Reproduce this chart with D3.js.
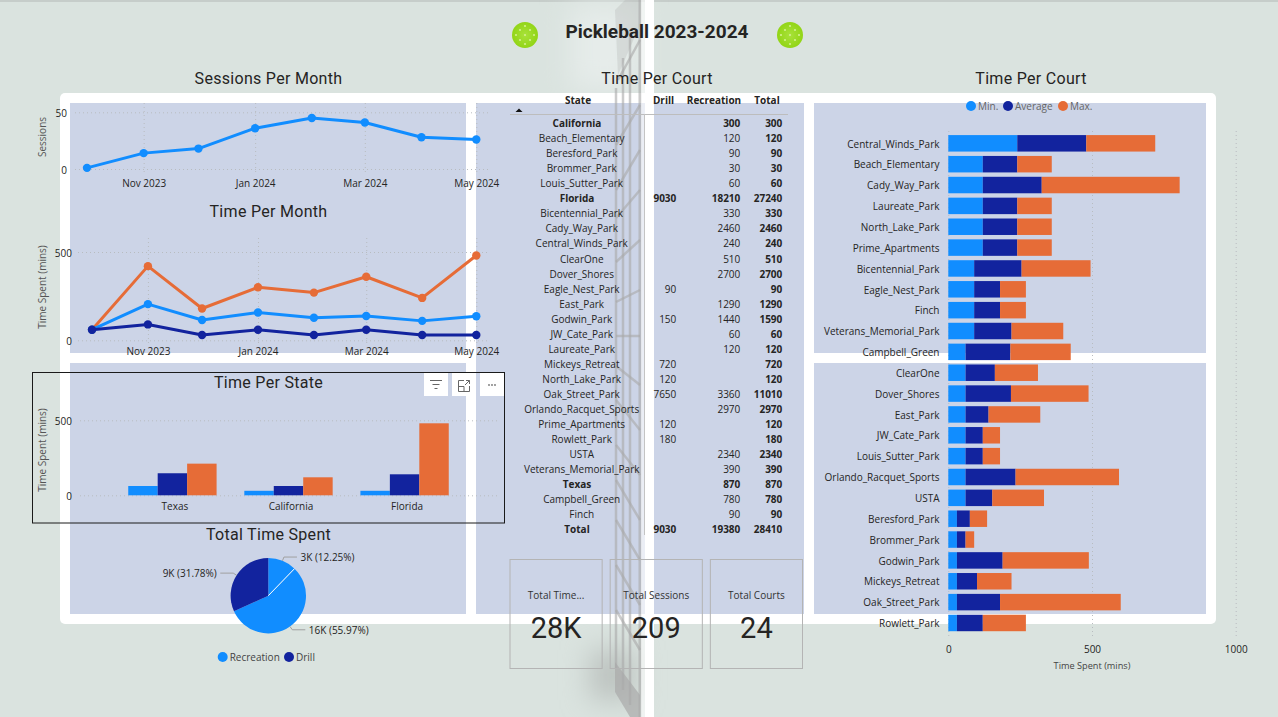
<!DOCTYPE html>
<html>
<head>
<meta charset="utf-8">
<title>Pickleball 2023-2024</title>
<script src="https://cdn.jsdelivr.net/npm/d3@7"></script>
<style>
  html, body { margin: 0; padding: 0; background: #dae3df; overflow: hidden; }
  svg { display: block; }
  text { font-family: "Open Sans", sans-serif; font-size: 10px; fill: #252423; }
  .title { font-family: Roboto, sans-serif; font-size: 16px; text-anchor: middle; dominant-baseline: middle; letter-spacing: 0.3px; }
  .tick text { font-size: 10px; fill: #252423; }
  .tick line { stroke: #b8bcc0; stroke-dasharray: 1 3; }
  .domain { display: none; }
  .axisTitle { font-size: 10px; fill: #555; text-anchor: middle; }
  .bold { font-weight: 700; }
</style>
</head>
<body>
<svg id="svg" width="1278" height="717"></svg>
<script>
// monthly data
const months = ['2023-10-01', '2023-11-01', '2023-12-01', '2024-01-01', '2024-02-01', '2024-03-01', '2024-04-01', '2024-05-01']
const sessionsPerMonth = [1, 14, 18, 36, 45, 41, 28, 26]
const timeMaxPerMonth = [60, 420, 180, 300, 270, 360, 240, 480]
const timeAvgPerMonth = [60, 205, 115, 157, 128, 138, 110, 136]
const timeMinPerMonth = [60, 90, 30, 60, 30, 60, 30, 30]
const monthTicks = ['2023-11-01', '2024-01-01', '2024-03-01', '2024-05-01']

// per state
const states = ['Texas', 'California', 'Florida']
const stateMin = [62, 30, 30]
const stateAvg = [147, 62, 140]
const stateMax = [211, 120, 480]

// pie
const pieLabels = ['3K (12.25%)', '16K (55.97%)', '9K (31.78%)']
const pieValues = [3480, 15900, 9030]

// table
const tableNames = ['California', 'Beach_Elementary', 'Beresford_Park', 'Brommer_Park', 'Louis_Sutter_Park', 'Florida', 'Bicentennial_Park', 'Cady_Way_Park', 'Central_Winds_Park', 'ClearOne', 'Dover_Shores', 'Eagle_Nest_Park', 'East_Park', 'Godwin_Park', 'JW_Cate_Park', 'Laureate_Park', 'Mickeys_Retreat', 'North_Lake_Park', 'Oak_Street_Park', 'Orlando_Racquet_Sports', 'Prime_Apartments', 'Rowlett_Park', 'USTA', 'Veterans_Memorial_Park', 'Texas', 'Campbell_Green', 'Finch', 'Total']
const tableDrill = ['', '', '', '', '', 9030, '', '', '', '', '', 90, '', 150, '', '', 720, 120, 7650, '', 120, 180, '', '', '', '', '', 9030]
const tableRec = [300, 120, 90, 30, 60, 18210, 330, 2460, 240, 510, 2700, '', 1290, 1440, 60, 120, '', '', 3360, 2970, '', '', 2340, 390, 870, 780, 90, 19380]
const tableTotal = [300, 120, 90, 30, 60, 27240, 330, 2460, 240, 510, 2700, 90, 1290, 1590, 60, 120, 720, 120, 11010, 2970, 120, 180, 2340, 390, 870, 780, 90, 28410]
const boldRows = ['California', 'Florida', 'Texas', 'Total']

// cards
const cardTitles = ['Total Time...', 'Total Sessions', 'Total Courts']
const cardValues = ['28K', '209', '24']

// per court
const courts = ['Central_Winds_Park', 'Beach_Elementary', 'Cady_Way_Park', 'Laureate_Park', 'North_Lake_Park', 'Prime_Apartments', 'Bicentennial_Park', 'Eagle_Nest_Park', 'Finch', 'Veterans_Memorial_Park', 'Campbell_Green', 'ClearOne', 'Dover_Shores', 'East_Park', 'JW_Cate_Park', 'Louis_Sutter_Park', 'Orlando_Racquet_Sports', 'USTA', 'Beresford_Park', 'Brommer_Park', 'Godwin_Park', 'Mickeys_Retreat', 'Oak_Street_Park', 'Rowlett_Park']
const courtMin = [240, 120, 120, 120, 120, 120, 90, 90, 90, 90, 60, 60, 60, 60, 60, 60, 60, 60, 30, 30, 30, 30, 30, 30]
const courtAvg = [240, 120, 205, 120, 120, 120, 165, 90, 90, 130, 156, 102, 158, 80, 60, 60, 174, 93, 45, 30, 159, 70, 150, 90]
const courtMax = [240, 120, 480, 120, 120, 120, 240, 90, 90, 180, 210, 150, 270, 180, 60, 60, 360, 180, 60, 30, 300, 120, 420, 150]

const lightBlue = '#118dff'
const darkBlue = '#12239e'
const orange = '#e66c37'
const panelColor = '#ccd4e7'
const textDy = '0.42em'

const parseDate = d3.timeParse('%Y-%m-%d')
const svg = d3.select('#svg')

// background
const defs = svg.append('defs')
defs.append('filter').attr('id', 'blur')
  .attr('x', '-100%').attr('y', '-100%').attr('width', '300%').attr('height', '300%')
  .append('feGaussianBlur').attr('stdDeviation', 14)
const ballGradient = defs.append('radialGradient').attr('id', 'ball')
ballGradient.append('stop').attr('offset', '0%').attr('stop-color', '#a8e23a')
ballGradient.append('stop').attr('offset', '100%').attr('stop-color', '#92d516')

svg.append('rect').attr('width', 1278).attr('height', 2).attr('fill', '#c6cdca')
svg.append('rect').attr('x', 570).attr('y', 5).attr('width', 68).attr('height', 85).attr('fill', '#e6ecea').attr('filter', 'url(#blur)')
svg.append('rect').attr('x', 590).attr('y', 650).attr('width', 45).attr('height', 50).attr('fill', '#bcc2bf').attr('filter', 'url(#blur)')

svg.append('rect').attr('x', 60).attr('y', 93).attr('width', 1156).attr('height', 531).attr('rx', 5).attr('fill', '#fff')
const panels = [[70, 103, 396, 250], [70, 363, 396, 251], [476, 103, 328, 511], [814, 103, 392, 250], [814, 363, 392, 251]]
svg.append('g').selectAll('rect').data(panels).enter().append('rect')
  .attr('x', d => d[0]).attr('y', d => d[1]).attr('width', d => d[2]).attr('height', d => d[3])
  .attr('fill', panelColor)

// net picture behind the middle column
const net = svg.append('g').attr('stroke', '#a9a9a9').attr('stroke-opacity', 0.6).attr('fill', 'none')
const netPosts = [[616, 88, 616, 668, 2.5], [623, 58, 623, 690, 2.5], [630, 30, 630, 705, 2.5], [640, 0, 640, 717, 3]]
const netRungs = [[640, 40, 618, 80], [640, 105, 616, 145], [640, 150, 616, 190], [640, 190, 616, 218], [640, 240, 616, 262], [640, 290, 616, 302], [640, 336, 616, 336], [640, 385, 616, 366], [640, 430, 616, 400], [640, 475, 616, 445], [640, 520, 616, 480], [640, 560, 616, 520], [640, 605, 616, 565], [640, 650, 616, 610]]
net.selectAll('line.post').data(netPosts).enter().append('line')
  .attr('x1', d => d[0]).attr('y1', d => d[1]).attr('x2', d => d[2]).attr('y2', d => d[3]).attr('stroke-width', d => d[4])
net.selectAll('line.rung').data(netRungs).enter().append('line')
  .attr('x1', d => d[0]).attr('y1', d => d[1]).attr('x2', d => d[2]).attr('y2', d => d[3]).attr('stroke-width', 2.5)
net.append('path').attr('d', 'M615,662 L640,695 L640,717 L630,717 L615,692 Z').attr('fill', '#a9a9a9').attr('fill-opacity', 0.7).attr('stroke', 'none')
net.append('path').attr('d', 'M615,10 L625,0 L640,0 L640,25 L618,75 Z').attr('fill', '#a9a9a9').attr('fill-opacity', 0.25).attr('stroke', 'none')

svg.append('rect').attr('x', 641).attr('width', 4).attr('height', 717).attr('fill', '#fff').attr('opacity', 0.6)
svg.append('rect').attr('x', 645).attr('width', 9).attr('height', 717).attr('fill', '#fff')

// page title
svg.append('text').attr('class', 'title bold').attr('x', 657).attr('y', 33).style('font-size', '19px').style('letter-spacing', '0').text('Pickleball 2023-2024')
const ballHoles = [[0, 0], [-5, -5], [5, -5], [-5, 5], [5, 5], [0, -9], [0, 9], [-9, 0], [9, 0]]
const balls = svg.append('g').selectAll('g').data([525, 790]).enter().append('g').attr('transform', d => `translate(${d}, 35)`)
balls.append('circle').attr('r', 13).attr('fill', 'url(#ball)')
balls.selectAll('circle.hole').data(ballHoles).enter().append('circle').attr('class', 'hole')
  .attr('cx', d => d[0]).attr('cy', d => d[1]).attr('r', 1.1).attr('fill', '#d2f08e')

const addTitle = (text, x, y) => svg.append('text').attr('class', 'title').attr('x', x).attr('y', y + 1.5).text(text)
addTitle('Sessions Per Month', 268.5, 78)
addTitle('Time Per Month', 268.5, 211)
addTitle('Time Per State', 268.5, 382)
addTitle('Total Time Spent', 268.5, 534)
addTitle('Time Per Court', 657, 78)
addTitle('Time Per Court', 1031, 78)

const rotatedLabel = (text, x, y) => svg.append('text').attr('class', 'axisTitle')
  .attr('transform', `translate(${x}, ${y}) rotate(-90)`).text(text)

// draws a y axis, with dotted gridlines from gridLeft to gridRight
const drawYAxis = (yScale, ticks, labelX, gridLeft, gridRight) => {
  const axis = svg.append('g').attr('transform', `translate(${gridLeft}, 0)`)
    .call(d3.axisLeft(yScale).tickValues(ticks).tickFormat(d3.format('d')).tickSize(-(gridRight - gridLeft)))
  axis.selectAll('text').attr('x', labelX - gridLeft).attr('dy', textDy)
  return axis
}

const drawTimeAxis = (xScale, yBottom, yTop, labelY) => {
  const axis = svg.append('g').attr('transform', `translate(0, ${yBottom})`)
    .call(d3.axisBottom(xScale).tickValues(monthTicks.map(parseDate)).tickFormat(d3.timeFormat('%b %Y')).tickSize(-(yBottom - yTop)))
  axis.selectAll('text').attr('y', labelY - yBottom).attr('dy', textDy)
}

const drawLine = (xScale, yScale, values, color) => {
  const points = months.map((m, i) => ({ date: parseDate(m), value: values[i] }))
  const line = d3.line().x(d => xScale(d.date)).y(d => yScale(d.value))
  svg.append('path').datum(points).attr('d', line).attr('fill', 'none').attr('stroke', color).attr('stroke-width', 3).attr('stroke-linejoin', 'round')
  svg.append('g').selectAll('circle').data(points).enter().append('circle')
    .attr('cx', d => xScale(d.date)).attr('cy', d => yScale(d.value)).attr('r', 4.2).attr('fill', color)
}

// sessions per month
const dateExtent = [parseDate(months[0]), parseDate(months[7])]
const xSessions = d3.scaleTime().domain(dateExtent).range([87, 476.3])
const ySessions = d3.scaleLinear().domain([0, 50]).range([169, 112.3])
drawYAxis(ySessions, [0, 50], 67, 75, 490)
drawTimeAxis(xSessions, 172, 103, 183)
rotatedLabel('Sessions', 46, 137)
drawLine(xSessions, ySessions, sessionsPerMonth, lightBlue)

// time per month
const xTime = d3.scaleTime().domain(dateExtent).range([92, 476.3])
const yTime = d3.scaleLinear().domain([0, 500]).range([340.3, 252])
drawYAxis(yTime, [0, 500], 72, 78, 490)
drawTimeAxis(xTime, 343, 235, 351)
rotatedLabel('Time Spent (mins)', 46, 287)
drawLine(xTime, yTime, timeMaxPerMonth, orange)
drawLine(xTime, yTime, timeAvgPerMonth, lightBlue)
drawLine(xTime, yTime, timeMinPerMonth, darkBlue)

// time per state
const xState = d3.scaleBand().domain(states).range([100.5, 476.5]).padding(0.239)
const xStateInner = d3.scaleBand().domain(['min', 'avg', 'max']).range([0, xState.bandwidth()])
const yState = d3.scaleLinear().domain([0, 500]).range([495.3, 420.3])
drawYAxis(yState, [0, 500], 72, 80, 500)
rotatedLabel('Time Spent (mins)', 46, 450)
const stateSeries = [['min', stateMin, lightBlue], ['avg', stateAvg, darkBlue], ['max', stateMax, orange]]
stateSeries.forEach(([key, values, color]) => {
  svg.append('g').selectAll('rect').data(states).enter().append('rect')
    .attr('x', d => xState(d) + xStateInner(key))
    .attr('y', (d, i) => yState(values[i]))
    .attr('width', xStateInner.bandwidth())
    .attr('height', (d, i) => yState(0) - yState(values[i]))
    .attr('fill', color)
})
const stateAxis = svg.append('g').attr('transform', 'translate(2.5, 495)').call(d3.axisBottom(xState).tickSize(0))
stateAxis.selectAll('text').attr('y', 11).attr('dy', textDy)

// selected visual border and its header icons
svg.append('rect').attr('x', 32.5).attr('y', 372.5).attr('width', 472).attr('height', 150.5).attr('fill', 'none').attr('stroke', '#1a1a1a').attr('stroke-width', 1)
svg.append('g').selectAll('rect').data([424, 452, 480]).enter().append('rect')
  .attr('x', d => d).attr('y', 373).attr('width', 24).attr('height', 23).attr('fill', '#fff')
const icons = svg.append('g').attr('fill', 'none').attr('stroke', '#666').attr('stroke-width', 1)
icons.append('path').attr('d', 'M430,380.5 H442 M432.5,384.5 H439.5 M434.5,388.5 H437.5')
icons.append('path').attr('d', 'M464,380.5 H458.5 V391.5 H469.5 V386 M458.5,386.5 H464 V391.5 M465,385 L469.5,380.5 M466,380.5 H469.5 V384')
svg.append('g').selectAll('circle').data([489, 492, 495]).enter().append('circle')
  .attr('cx', d => d).attr('cy', 385).attr('r', 0.9).attr('fill', '#777')

// pie
const pieRadius = 37.7
const pieCenter = [268.3, 595.7]
const pieColors = [lightBlue, lightBlue, darkBlue]
const pieArcs = d3.pie().sort(null)(pieValues)
const arc = d3.arc().innerRadius(0).outerRadius(pieRadius)
const pieGroup = svg.append('g').attr('transform', `translate(${pieCenter[0]}, ${pieCenter[1]})`)
pieGroup.selectAll('path').data(pieArcs).enter().append('path').attr('d', arc).attr('fill', (d, i) => pieColors[i])
const splitAngle = pieArcs[0].endAngle
pieGroup.append('line')
  .attr('x2', pieRadius * Math.sin(splitAngle)).attr('y2', -pieRadius * Math.cos(splitAngle))
  .attr('stroke', '#fff').attr('stroke-width', 1)
pieArcs.forEach((d, i) => {
  const mid = (d.startAngle + d.endAngle) / 2
  const side = Math.sin(mid) > 0 ? 1 : -1
  const sx = Math.sin(mid), cy = -Math.cos(mid)
  const elbow = [(pieRadius + 4) * sx, (pieRadius + 4) * cy]
  const end = elbow[0] + side * 13
  pieGroup.append('polyline')
    .attr('points', [[pieRadius * sx, pieRadius * cy], elbow, [end, elbow[1]]].join(' '))
    .attr('fill', 'none').attr('stroke', '#a0a0a0').attr('stroke-width', 1)
  pieGroup.append('text').attr('x', end + side * 3.5).attr('y', elbow[1]).attr('dy', textDy)
    .attr('text-anchor', side > 0 ? 'start' : 'end').text(pieLabels[i])
})

// legends
const drawLegend = (items) => {
  items.forEach(([label, color, cx, cy, textColor]) => {
    svg.append('circle').attr('cx', cx).attr('cy', cy).attr('r', 5).attr('fill', color)
    svg.append('text').attr('x', cx + 7).attr('y', cy).attr('dy', textDy).style('fill', textColor).text(label)
  })
}
drawLegend([['Recreation', lightBlue, 222.7, 657, '#444'], ['Drill', darkBlue, 289, 657, '#444']])
drawLegend([['Min.', lightBlue, 971, 106, '#666'], ['Average', darkBlue, 1008, 106, '#666'], ['Max.', orange, 1063, 106, '#666']])

// table
const yRow = d3.scalePoint().domain(tableNames).range([123, 529])
const table = svg.append('g')
const tableCell = (x, y, text, anchor, bold) => table.append('text').attr('x', x).attr('y', y).attr('dy', textDy)
  .attr('text-anchor', anchor).attr('class', bold ? 'bold' : null).text(text)
tableCell(578, 100, 'State', 'middle', true)
tableCell(663.5, 100, 'Drill', 'middle', true)
tableCell(714, 100, 'Recreation', 'middle', true)
tableCell(767, 100, 'Total', 'middle', true)
table.append('line').attr('x1', 510).attr('x2', 788).attr('y1', 114.5).attr('y2', 114.5).attr('stroke', '#bdbdbd')
table.append('line').attr('x1', 644.5).attr('x2', 644.5).attr('y1', 114).attr('y2', 535).attr('stroke', '#c4c4c4')
table.append('path').attr('d', 'M515.5,112 L519,108.5 L522.5,112 Z').attr('fill', '#111')
tableNames.forEach((name, i) => {
  const bold = boldRows.includes(name)
  const y = yRow(name)
  tableCell(bold ? 577 : 581.7, y, name, 'middle', bold)
  tableCell(676.3, y, tableDrill[i], 'end', bold)
  tableCell(740.3, y, tableRec[i], 'end', bold)
  tableCell(782.3, y, tableTotal[i], 'end', true)
})

// cards
const xCard = d3.scaleBand().domain(cardTitles).range([510, 802.5]).paddingInner(0.08)
const cards = svg.append('g').selectAll('g').data(cardTitles).enter().append('g')
  .attr('transform', d => `translate(${xCard(d)}, 559.5)`)
cards.append('rect').attr('width', xCard.bandwidth()).attr('height', 109).attr('fill', 'none').attr('stroke', '#b4b4b4')
cards.append('text').attr('x', xCard.bandwidth() / 2).attr('y', 35.5).attr('dy', textDy).attr('text-anchor', 'middle').style('fill', '#333').text(d => d)
cards.append('text').attr('x', xCard.bandwidth() / 2).attr('y', 68).attr('dy', '0.36em').attr('text-anchor', 'middle')
  .style('font-family', 'Roboto, sans-serif').style('font-size', '29px').text((d, i) => cardValues[i])

// time per court
const xCourt = d3.scaleLinear().domain([0, 1000]).range([948.3, 1235.7])
const yCourt = d3.scaleBand().domain(courts).range([132.9, 633.4]).paddingInner(0.21).paddingOuter(0.105)
const courtAxis = svg.append('g').attr('transform', 'translate(0, 636)')
  .call(d3.axisBottom(xCourt).tickValues([0, 500, 1000]).tickFormat(d3.format('d')).tickSize(-508))
courtAxis.selectAll('text').attr('y', 13).attr('dy', textDy)
const courtStack = d3.stack().keys(['min', 'avg', 'max'])(courts.map((c, i) => ({ court: c, min: courtMin[i], avg: courtAvg[i], max: courtMax[i] })))
const courtColors = [lightBlue, darkBlue, orange]
svg.append('g').selectAll('g').data(courtStack).enter().append('g').attr('fill', (d, i) => courtColors[i])
  .selectAll('rect').data(d => d).enter().append('rect')
  .attr('x', d => xCourt(d[0]))
  .attr('y', d => yCourt(d.data.court))
  .attr('width', d => xCourt(d[1]) - xCourt(d[0]))
  .attr('height', yCourt.bandwidth())
const courtLabels = svg.append('g').attr('transform', 'translate(939.5, 0)').call(d3.axisLeft(yCourt).tickSize(0).tickPadding(0))
courtLabels.selectAll('text').attr('dy', textDy)
svg.append('text').attr('x', 1092).attr('y', 665.5).attr('dy', textDy).attr('text-anchor', 'middle').style('font-size', '9.2px').style('fill', '#444').text('Time Spent (mins)')
</script>
</body>
</html>
